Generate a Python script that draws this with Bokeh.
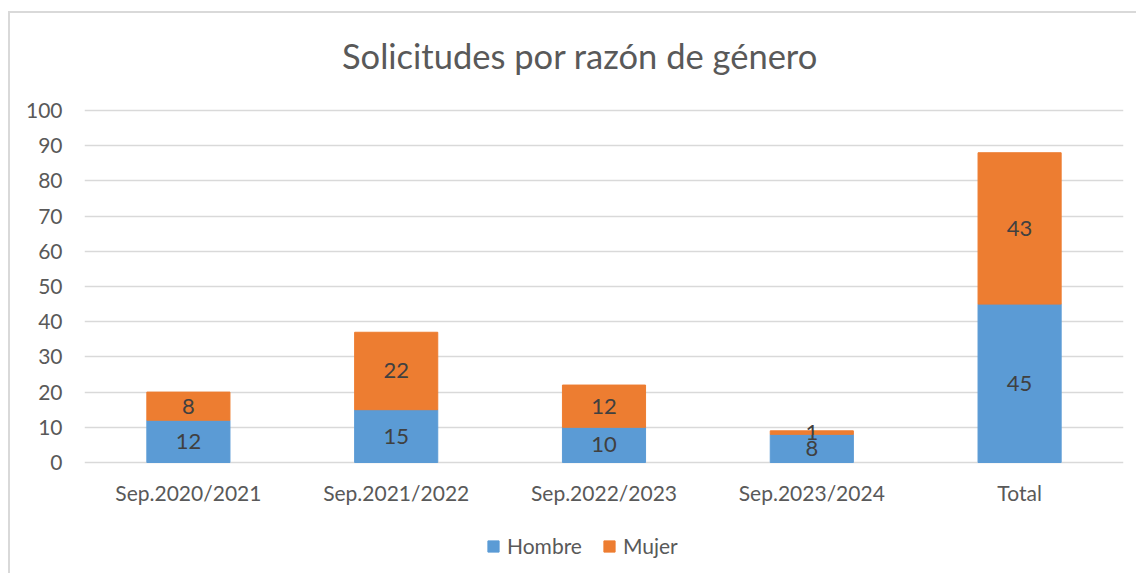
from bokeh.plotting import figure
from bokeh.models import ColumnDataSource, Legend, LegendItem, LabelSet, FixedTicker
from bokeh.core.properties import value
from bokeh.embed import file_html
from bokeh.resources import INLINE

categories = ["Sep.2020/2021", "Sep.2021/2022", "Sep.2022/2023", "Sep.2023/2024", "Total"]
hombre = [12, 15, 10, 8, 45]
mujer = [8, 22, 12, 1, 43]
y_ticks = [0, 10, 20, 30, 40, 50, 60, 70, 80, 90, 100]
title_text = "Solicitudes por razón de género"

FONT = "Lato"
TXT = "#595959"
BLUE = "#5B9BD5"
ORANGE = "#ED7D31"

# layout (window pixels)
CANVAS_TOP, CANVAS_H = 13, 562
FRAME_LEFT, FRAME_RIGHT = 84, 1123
PLOT_TOP, ZERO_Y = 110, 462
CANVAS_BOTTOM = CANVAS_TOP + CANVAS_H
px_per_unit = (ZERO_Y - PLOT_TOP) / 100.0
y_lo = -(CANVAS_BOTTOM - ZERO_Y) / px_per_unit
y_hi = 100 + (PLOT_TOP - CANVAS_TOP) / px_per_unit
cat_label_y = -30 / px_per_unit
title_y = 100 + (PLOT_TOP - 55) / px_per_unit
title_x = (579.5 - FRAME_LEFT) / ((FRAME_RIGHT - FRAME_LEFT) / len(categories))

src = ColumnDataSource(dict(
    cat=categories,
    hombre=hombre,
    mujer=mujer,
    h_mid=[h / 2 for h in hombre],
    m_mid=[h + m / 2 for h, m in zip(hombre, mujer)],
    h_lab=[str(v) for v in hombre],
    m_lab=[str(v) for v in mujer],
    lab_y=[cat_label_y] * len(categories),
))

p = figure(x_range=categories, y_range=(y_lo, y_hi), width=1128, height=CANVAS_H,
           output_backend="svg", toolbar_location=None, x_axis_location=None,
           min_border_left=FRAME_LEFT - 10, min_border_right=15, min_border_top=0,
           min_border_bottom=0,
           styles={"margin-left": "8px", "margin-top": "11px",
                   "border-left": "2px solid #d9d9d9", "border-top": "2px solid #d9d9d9"})
p.outline_line_color = None
p.title.visible = False

r = p.vbar_stack(["hombre", "mujer"], x="cat", width=0.4, color=[BLUE, ORANGE], source=src)

for ycol, lcol in (("h_mid", "h_lab"), ("m_mid", "m_lab")):
    ls = LabelSet(x="cat", y=ycol, text=lcol, source=src, text_align="center",
                  text_baseline="middle", text_font=value(FONT), text_font_size="22px",
                  text_color="#404040")
    p.add_layout(ls)

# category labels (x axis)
p.text(x="cat", y="lab_y", text="cat", source=src, text_align="center",
       text_baseline="middle", text_font=value(FONT), text_font_size="21px", text_color=TXT)

# chart title
p.text(x=[title_x], y=[title_y], text=[title_text], text_align="center",
       text_baseline="middle", text_font=value(FONT), text_font_size="34.5px", text_color=TXT)

p.yaxis.ticker = FixedTicker(ticks=y_ticks)
p.yaxis.axis_line_color = None
p.yaxis.major_tick_line_color = None
p.yaxis.minor_tick_line_color = None
p.yaxis.major_label_text_font = FONT
p.yaxis.major_label_text_font_size = "21px"
p.yaxis.major_label_text_color = TXT
p.yaxis.major_label_standoff = 16

p.xgrid.grid_line_color = None
p.ygrid.grid_line_color = "#d9d9d9"
p.ygrid.grid_line_width = 1.5

legend = Legend(items=[LegendItem(label="Hombre", renderers=[r[0]]),
                       LegendItem(label="Mujer", renderers=[r[1]])],
                orientation="horizontal", location=(402, 17),
                label_text_font=FONT, label_text_font_size="21px", label_text_color=TXT,
                glyph_width=14, glyph_height=14, spacing=20, label_standoff=7,
                border_line_color=None, background_fill_alpha=0, padding=0, margin=0)
p.add_layout(legend)

open("out.html", "w").write(file_html(p, INLINE))
